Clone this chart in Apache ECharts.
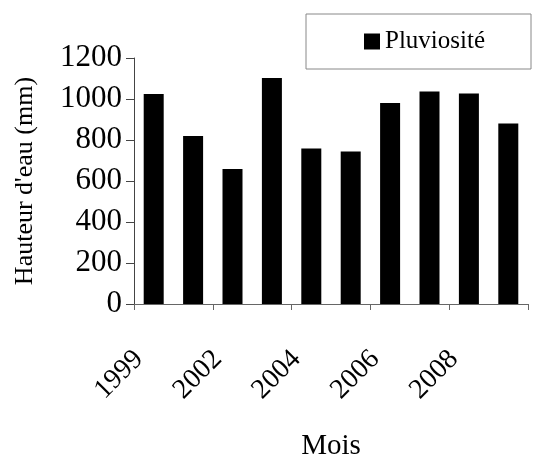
<!DOCTYPE html>
<html>
<head>
<meta charset="utf-8">
<script src="https://cdn.jsdelivr.net/npm/echarts@6/dist/echarts.min.js"></script>
<style>
  html, body { margin: 0; padding: 0; background: #fff; }
  #chart { width: 539px; height: 458px; }
</style>
</head>
<body>
<div id="chart"></div>
<script>
  // categories (every other label shown, as in the source)
  var years = ['1999', '2001', '2002', '2003', '2004', '2005', '2006', '2007', '2008', '2009'];
  var rainfall = [1024, 819, 658, 1102, 758, 744, 980, 1037, 1027, 880];
  var yTicks = [0, 200, 400, 600, 800, 1000, 1200];

  var serif = 'Liberation Serif';
  var chart = echarts.init(document.getElementById('chart'));

  var option = {
    backgroundColor: '#fff',
    animation: false,
    textStyle: { fontFamily: serif, color: '#000' },
    legend: {
      data: ['Pluviosité'],
      left: 306,
      top: 14,
      padding: [15, 46, 15, 58],
      borderColor: '#888',
      borderWidth: 1,
      itemWidth: 16,
      itemHeight: 16,
      itemGap: 5,
      icon: 'rect',
      textStyle: { fontFamily: serif, fontSize: 25, color: '#000' }
    },
    grid: { left: 134, right: 11, top: 58, bottom: 154, outerBoundsMode: 'none' },
    xAxis: {
      type: 'category',
      data: years,
      name: 'Mois',
      nameLocation: 'middle',
      nameGap: 128,
      nameTextStyle: { fontFamily: serif, fontSize: 29, color: '#000' },
      axisLine: { lineStyle: { color: '#666', width: 1 } },
      axisTick: { show: true, length: 6, inside: false, lineStyle: { color: '#666' } },
      axisLabel: {
        interval: 1,
        rotate: 45,
        margin: 36,
        padding: [0, 21, 0, 0],
        fontFamily: serif,
        fontSize: 28,
        color: '#000'
      }
    },
    yAxis: {
      type: 'value',
      min: yTicks[0],
      max: yTicks[yTicks.length - 1],
      interval: 200,
      name: "Hauteur d'eau (mm)",
      nameLocation: 'middle',
      nameGap: 96,
      nameTextStyle: { fontFamily: serif, fontSize: 26, color: '#000' },
      axisLine: { show: true, lineStyle: { color: '#444', width: 1 } },
      axisTick: { show: true, length: 8, lineStyle: { color: '#444' } },
      splitLine: { show: false },
      axisLabel: {
        margin: 12,
        fontFamily: serif,
        fontSize: 31,
        color: '#000',
        formatter: function (v) { return String(v); }
      }
    },
    series: [{
      name: 'Pluviosité',
      type: 'bar',
      data: rainfall,
      barWidth: 20,
      itemStyle: { color: '#000' }
    }]
  };

  chart.setOption(option);
</script>
</body>
</html>
